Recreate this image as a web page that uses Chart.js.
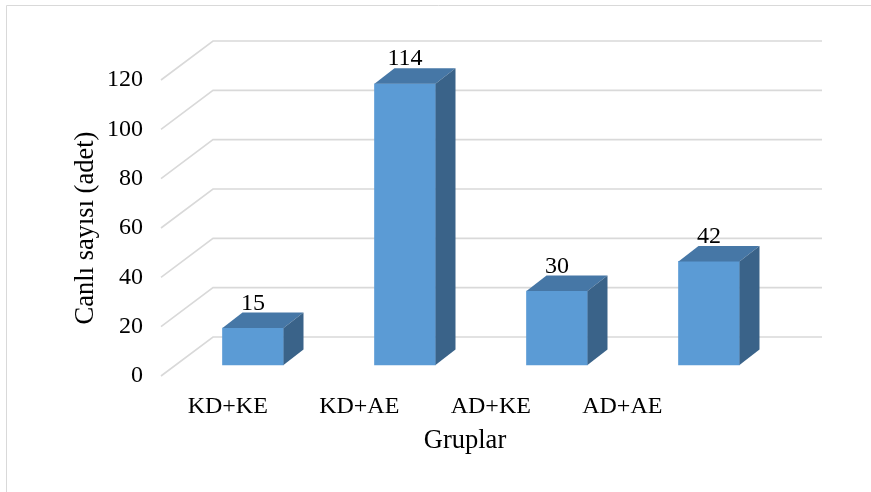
<!DOCTYPE html>
<html>
<head>
<meta charset="utf-8">
<script src="https://cdn.jsdelivr.net/npm/chart.js@4.4.1/dist/chart.umd.min.js"></script>
<style>
html, body { margin: 0; padding: 0; background: #fff; }
#wrap { width: 871px; height: 492px; }
</style>
</head>
<body>
<div id="wrap"><canvas id="chart" width="871" height="492"></canvas></div>
<script>
const categories = ['KD+KE', 'KD+AE', 'AD+KE', 'AD+AE'];
const counts = [15, 114, 30, 42];
const yTicks = [0, 20, 40, 60, 80, 100, 120];

const serif = "'Liberation Serif', 'Times New Roman', serif";
const frontColor = '#5b9bd5';
const topColor = '#4677a6';
const sideColor = '#3a6389';
const gridColor = '#d9d9d9';

// 3d offsets (px)
const barDx = 20, barDy = -15.5;
const wallDx = 51, wallDy = -39;
const wallExtra = 54; // back wall reaches past the floor's front edge

const frame = {
    id: 'frame',
    beforeDraw(chart) {
        const ctx = chart.ctx;
        ctx.save();
        ctx.strokeStyle = gridColor;
        ctx.lineWidth = 1;
        ctx.beginPath();
        ctx.moveTo(6.5, chart.height);
        ctx.lineTo(6.5, 5.5);
        ctx.lineTo(chart.width, 5.5);
        ctx.stroke();
        ctx.restore();
    }
};

const box3d = {
    id: 'box3d',
    beforeDatasetsDraw(chart) {
        const {ctx, chartArea} = chart;
        const y = chart.scales.y;
        ctx.save();
        ctx.strokeStyle = gridColor;
        ctx.lineWidth = 1.6;
        yTicks.forEach(v => {
            const fy = y.getPixelForValue(v);
            ctx.beginPath();
            ctx.moveTo(chartArea.left - 1, fy);
            ctx.lineTo(chartArea.left + wallDx, fy + wallDy);
            ctx.lineTo(chartArea.right + wallExtra, fy + wallDy);
            ctx.stroke();
        });
        ctx.restore();
    },
    afterDatasetsDraw(chart) {
        const ctx = chart.ctx;
        const meta = chart.getDatasetMeta(0);
        ctx.save();
        meta.data.forEach((bar, i) => {
            const p = bar.getProps(['x', 'y', 'base', 'width'], true);
            const l = p.x - p.width / 2, r = p.x + p.width / 2;

            ctx.fillStyle = topColor;
            ctx.beginPath();
            ctx.moveTo(l, p.y);
            ctx.lineTo(l + barDx, p.y + barDy);
            ctx.lineTo(r + barDx, p.y + barDy);
            ctx.lineTo(r, p.y);
            ctx.closePath();
            ctx.fill();

            ctx.fillStyle = sideColor;
            ctx.beginPath();
            ctx.moveTo(r, p.y);
            ctx.lineTo(r + barDx, p.y + barDy);
            ctx.lineTo(r + barDx, p.base + barDy);
            ctx.lineTo(r, p.base);
            ctx.closePath();
            ctx.fill();

            ctx.fillStyle = '#000';
            ctx.font = '24px ' + serif;
            ctx.textAlign = 'center';
            ctx.textBaseline = 'alphabetic';
            ctx.fillText(String(counts[i]), p.x, p.y + barDy - 3);
        });
        ctx.restore();
    }
};

new Chart(document.getElementById('chart'), {
    type: 'bar',
    data: {
        datasets: [{
            data: categories.map((c, i) => ({x: i, y: counts[i]})),
            backgroundColor: frontColor,
            borderWidth: 0,
            barThickness: 61,
            xAxisID: 'xb',
            yAxisID: 'yb',
            clip: false
        }]
    },
    plugins: [frame, box3d],
    options: {
        responsive: false,
        animation: false,
        layout: {padding: {top: 80, right: 103, bottom: 0, left: 0}},
        plugins: {legend: {display: false}, tooltip: {enabled: false}},
        scales: {
            x: {
                type: 'linear',
                position: 'bottom',
                offset: false,
                min: -0.5,
                max: 4.108,
                afterBuildTicks: axis => { axis.ticks = categories.map((c, i) => ({value: i})); },
                afterFit: axis => { axis.height = 116; },
                grid: {display: false, drawTicks: false},
                border: {display: false},
                ticks: {
                    autoSkip: false,
                    maxRotation: 0,
                    padding: 16,
                    color: '#000',
                    font: {family: serif, size: 24},
                    callback: v => categories[v]
                },
                title: {
                    display: true,
                    text: 'Gruplar',
                    color: '#000',
                    font: {family: serif, size: 26.5},
                    padding: {top: 0, bottom: 35}
                }
            },
            xb: {
                type: 'linear',
                display: false,
                offset: false,
                min: -0.5987,
                max: 3.3882
            },
            y: {
                type: 'linear',
                position: 'left',
                min: 0,
                max: 120,
                afterBuildTicks: axis => { axis.ticks = yTicks.map(v => ({value: v})); },
                afterFit: axis => { axis.width = 162; },
                grid: {display: false, drawTicks: false},
                border: {display: false},
                ticks: {
                    padding: 19,
                    color: '#000',
                    font: {family: serif, size: 24}
                },
                title: {
                    display: true,
                    text: 'Canlı sayısı (adet)',
                    color: '#000',
                    font: {family: serif, size: 26.5},
                    padding: {top: 70, bottom: 0}
                }
            },
            yb: {
                type: 'linear',
                display: false,
                min: -4.459,
                max: 115.541
            }
        }
    }
});
</script>
</body>
</html>
